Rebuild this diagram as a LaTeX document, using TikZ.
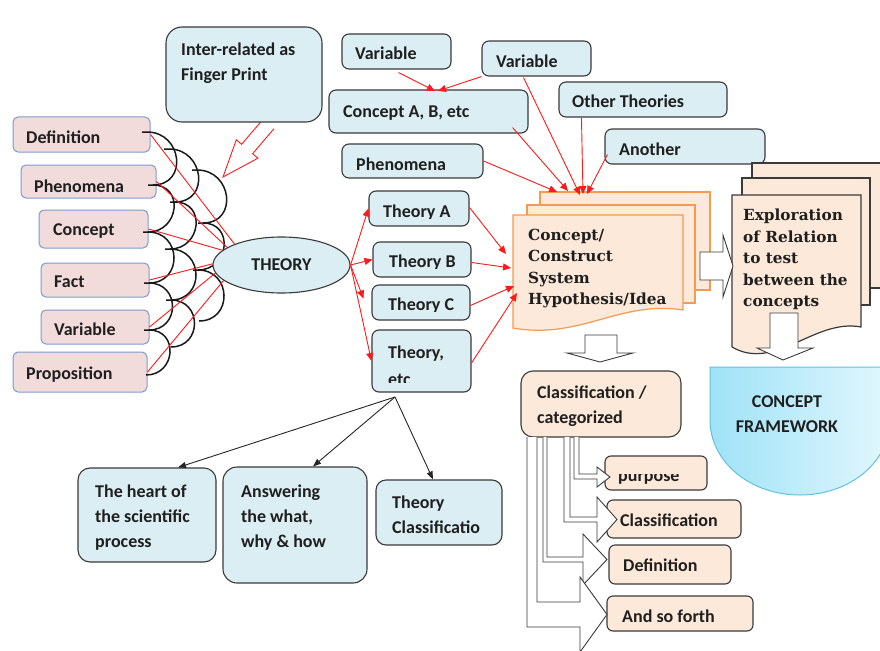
\documentclass[tikz,border=0pt]{standalone}
\usepackage{fontspec}
\newfontfamily\carl{Carlito}
\newfontfamily\serf{DejaVu Serif}
\usetikzlibrary{arrows.meta,shapes.geometric}
\definecolor{pinkf}{HTML}{F2DCDB}
\definecolor{pinkd}{HTML}{7B9BCF}
\definecolor{bluef}{HTML}{DBEEF4}
\definecolor{darkd}{HTML}{3A3A3A}
\definecolor{peachf}{HTML}{FDE9D9}
\definecolor{orng}{HTML}{F59A4E}
\definecolor{cfl}{HTML}{9FE2F7}
\definecolor{cfr}{HTML}{E3F7FD}
\definecolor{cfd}{HTML}{5FC3DE}
\definecolor{redl}{HTML}{FF1A1A}
\newcommand\tbox[9]{%
  \node[#1, minimum width={(#5)-(#3)}, minimum height={(#6)-(#4)}, inner sep=0pt] (#2) at ({((#3)+(#5))/2},{((#4)+(#6))/2}) {};
  \node[txt] (#2-t) at (#7,#8) {#9};%
}
\begin{document}
\begin{tikzpicture}[x=1pt,y=-1pt,
  pbox/.style={draw=pinkd, fill=pinkf, line width=1pt, rounded corners=5pt},
  bbox/.style={draw=darkd, fill=bluef, line width=1.1pt, rounded corners=7pt},
  obox/.style={draw=darkd, fill=peachf, line width=1.1pt, rounded corners=7pt},
  txt/.style={font=\carl\bfseries\fontsize{18}{25}\selectfont, text=black!88, inner sep=0pt, align=left, anchor=west},
  stxt/.style={font=\serf\bfseries\fontsize{15.3}{21.6}\selectfont, text=black!88, inner sep=0pt, align=left, anchor=west},
  redarr/.style={draw=redl, line width=0.9pt, -{Triangle[length=8pt,width=7pt]}},
  blkarr/.style={draw=black!85, line width=0.9pt, -{Triangle[length=8pt,width=6pt]}},
  redline/.style={draw=redl, line width=0.9pt},
  arcline/.style={draw=black!90, line width=1.5pt},
  hollow/.style={draw=darkd, fill=white, line width=0.9pt, line join=miter},
  pagec/.style={draw=orng, fill=peachf, line width=1.2pt},
  pagee/.style={draw=darkd, fill=peachf, line width=1.2pt}]
\useasboundingbox (0,0) rectangle (880,650);
\fill[white] (0,0) rectangle (880,650);

% ---------- left pink boxes ----------
\tbox{pbox}{pdef}{13}{117}{150}{152}{26}{137}{Definition}
\tbox{pbox}{pphe}{21}{165}{156}{198}{34}{186}{Phenomena}
\tbox{pbox}{pcon}{39}{210}{148}{248}{53}{231}{Concept}
\tbox{pbox}{pfac}{41}{263}{149}{297}{54}{282}{Fact}
\tbox{pbox}{pvar}{41}{310}{149}{344}{54}{329}{Variable}
\tbox{pbox}{ppro}{13}{352}{147}{392}{26}{375}{Proposition}

% ---------- fingerprint arcs ----------
\foreach \xa/\ya/\xb/\yb in {147/132/153/185,153/185/148/232,148/232/149/283,149/283/149/330,149/330/146/375,
  169/149/175/202,175/202/170/249,170/249/171/300,171/300/171/347,
  197/170/203/223,203/223/198/270,198/270/199/321}{
  \pgfmathsetmacro\rr{0.667*(\yb-\ya)}
  \draw[arcline] (\xa-5,\ya) -- (\xa,\ya) .. controls (\xa+\rr,\ya) and (\xb+\rr,\yb) .. (\xb,\yb);
}

% ---------- THEORY ----------
\node[ellipse, draw=darkd, fill=bluef, line width=1.1pt, minimum width=137pt, minimum height=56pt, inner sep=0pt,
  font=\carl\bfseries\fontsize{18}{25}\selectfont, text=black!88] (th) at (281.5,265) {THEORY};
\draw[redline] (pdef.east) -- (th.156);
\draw[redline] (pphe.east) -- (th.162);
\draw[redline] (pcon.east) -- (th.166);
\draw[redline] (pfac.east) -- (th.179);
\draw[redline] (pvar.east) -- (th.187);
\draw[redline] (ppro.east) -- (th.195);

% ---------- Inter-related box and hollow red arrow ----------
\coordinate (fptip) at (223,177);
\path[draw=redl, fill=white, line width=0.9pt, line join=miter] (263,119.3) -- (241.6,144.3) -- (236.3,139.8) -- (fptip) -- (257.9,158.2) -- (252.6,153.7) -- (274,128.7);
\tbox{bbox, rounded corners=16pt}{fp}{166}{27}{322}{122}{181}{63}{Inter-related as\\Finger Print}

% ---------- top blue boxes ----------
\tbox{bbox}{va}{342}{34}{451}{69}{355}{53}{Variable}
\tbox{bbox}{vb}{482}{41}{591}{76}{496}{61}{Variable}
\tbox{bbox}{ca}{329}{90}{528}{133}{343}{113}{Concept A, B, etc}
\tbox{bbox}{ot}{559}{82}{727}{117}{572}{101}{Other Theories}
\tbox{bbox}{ph}{342}{144}{483}{178}{356}{164}{Phenomena}
\tbox{bbox}{an}{605}{129}{765}{164}{619}{149}{Another}

% ---------- concept stack ----------
\path[pagec] (540,192) rectangle (710,290);
\path[pagec] (527,205) rectangle (695,303);
\path[pagec] (513,215) -- (683,215) -- (683,310) .. controls (620,300) and (580,340) .. (513,328) -- cycle;
\node[stxt] (cst) at (528,268.5) {Concept/\\Construct\\System\\Hypothesis/Idea};
\coordinate (ct1) at (557,192);
\coordinate (ct2) at (568,191);
\coordinate (ct3) at (580,195);
\coordinate (ct4) at (583,194);
\coordinate (ct5) at (587,194);
\coordinate (ci1) at (506,254);
\coordinate (ci2) at (511,268);
\coordinate (ci3) at (514,286);
\coordinate (ci4) at (517,293);

% ---------- explore stack ----------
\path[pagee] (752,163) rectangle (895,288);
\path[pagee] (742,178) rectangle (870,305);
\path[pagee] (732,195) -- (861,195) -- (861,327) .. controls (815,318) and (775,372) .. (732,347) -- cycle;
\node[stxt] (est) at (743,259.5) {Exploration\\of Relation\\to test\\between the\\concepts};

% ---------- top red arrows ----------
\coordinate (cain1) at (435,91);
\coordinate (cain2) at (438,91);
\draw[redarr] ([xshift=2pt,yshift=-3pt]va.south) -- (cain1);
\draw[redarr] (vb.south west) -- (cain2);
\draw[redarr] (ph.east) -- (ct1);
\draw[redarr] ([xshift=-16pt,yshift=6pt]ca.south east) -- (ct2);
\draw[redarr] ([xshift=-13pt,yshift=-1pt]vb.south) -- (ct3);
\draw[redarr] ([xshift=23pt]ot.south west) -- (ct4);
\draw[redarr] ([xshift=3pt,yshift=-8pt]an.west) -- (ct5);

% ---------- theory boxes ----------
\node[bbox, minimum width=100pt, minimum height=35pt, inner sep=0pt] (ta) at (419,208.5) {};
\begin{scope}\clip (369,191) rectangle (469,218);
\node[txt, anchor=base west] (ta-t) at (383,217) {Theory A};
\end{scope}
\node[bbox, minimum width=98pt, minimum height=35pt, inner sep=0pt] (tb) at (422,259.5) {};
\begin{scope}\clip (373,242) rectangle (471,268);
\node[txt, anchor=base west] (tb-t) at (389,267) {Theory B};
\end{scope}
\node[bbox, minimum width=98pt, minimum height=35pt, inner sep=0pt] (tc) at (421,302.5) {};
\begin{scope}\clip (372,285) rectangle (470,311);
\node[txt, anchor=base west] (tc-t) at (388,310) {Theory C};
\end{scope}
\node[bbox, minimum width=99pt, minimum height=62pt, inner sep=0pt] (te) at (421.5,361) {};
\node[txt, anchor=base west] (te-t1) at (388,358) {Theory,};
\begin{scope}\clip (372,330) rectangle (471,382);
\node[txt, anchor=base west] (te-t2) at (388,385) {etc};
\end{scope}

\draw[redarr] (th.east) -- (ta.west);
\draw[redarr] (th.east) -- (tb.west);
\draw[redarr] (th.east) -- ([xshift=-8pt,yshift=4pt]tc.west);
\draw[redarr] (th.east) -- (te.west);
\draw[redarr] ([yshift=1pt]ta.east) -- (ci1);
\draw[redarr] ([yshift=-3pt]tb.east) -- (ci2);
\draw[redarr] ([yshift=-3pt]tc.east) -- (ci3);
\draw[redarr] ([yshift=-2pt]te.east) -- (ci4);

% ---------- bottom boxes ----------
\tbox{bbox, rounded corners=12pt}{hp}{78}{468}{216}{562}{95}{518}{The heart of\\the scientific\\process}
\tbox{bbox, rounded corners=14pt}{aw}{223}{467}{367}{583}{241}{518}{Answering\\the what,\\why \& how}
\tbox{bbox, rounded corners=10pt}{tcl}{376}{480}{502}{545}{392}{515}{Theory\\Classificatio}
\coordinate (tebot) at (395,397);
\draw[blkarr] (tebot) -- ([xshift=31pt]hp.north);
\draw[blkarr] (tebot) -- ([xshift=18pt]aw.north);
\draw[blkarr] (tebot) -- ([xshift=-6pt]tcl.north);

% ---------- concept framework ----------
\path[draw=cfd, line width=1pt, left color=cfl, right color=cfr] (710,367) -- (890,367) -- (890,420) .. controls (890,461.4) and (850.3,495) .. (800,495) .. controls (749.7,495) and (710,461.4) .. (710,420) -- cycle;
\node[txt, align=center, anchor=center] (cf) at (787,414) {CONCEPT\\FRAMEWORK};

% ---------- white block arrows ----------
\path[hollow] (700,252) -- (723,252) -- (723,235) -- (733,266) -- (723,297) -- (723,280) -- (700,280) -- cycle;
\path[hollow] (585,335) -- (617,335) -- (617,353) -- (633,353) -- (600,362) -- (567,353) -- (585,353) -- cycle;
\path[hollow] (770,313) -- (798,313) -- (798,348) -- (813,348) -- (783,360) -- (757,348) -- (770,348) -- cycle;

% ---------- classification ----------
\tbox{obox, rounded corners=12pt}{cl}{521}{371}{681}{437}{537}{406}{Classification /\\categorized}
\node[obox, rounded corners=6pt, minimum width=102pt, minimum height=34pt, inner sep=0pt] (pu) at (656,473) {};
\begin{scope}\clip (605,474) rectangle (707,490);
\node[txt, anchor=base west] (pu-t) at (618,481) {purpose};
\end{scope}
\tbox{obox, rounded corners=6pt}{cs}{607}{500}{741}{538}{620}{520.5}{Classification}
\tbox{obox, rounded corners=6pt}{df}{609}{545}{731}{584}{623}{565.5}{Definition}
\tbox{obox, rounded corners=6pt}{sf}{607}{596}{753}{631}{622}{616.5}{And so forth}

% bent hollow arrows
\path[hollow] (574,437) -- (574,479) -- (597,479) -- (597,487) -- (610,477) -- (597,467) -- (597,474) -- (579,474) -- (579,437);
\path[hollow] (564,437) -- (564,522) -- (597,522) -- (597,542) -- (617,519.5) -- (597,497) -- (597,517) -- (570,517) -- (570,437);
\path[hollow] (543,437) -- (543,562) -- (583,562) -- (583,585) -- (607,559.5) -- (583,534) -- (583,557) -- (547,557) -- (547,437);
\path[hollow] (527,437) -- (527,627) -- (580,627) -- (580,652) -- (607,614.5) -- (580,577) -- (580,602) -- (537,602) -- (537,437);
\end{tikzpicture}
\end{document}
